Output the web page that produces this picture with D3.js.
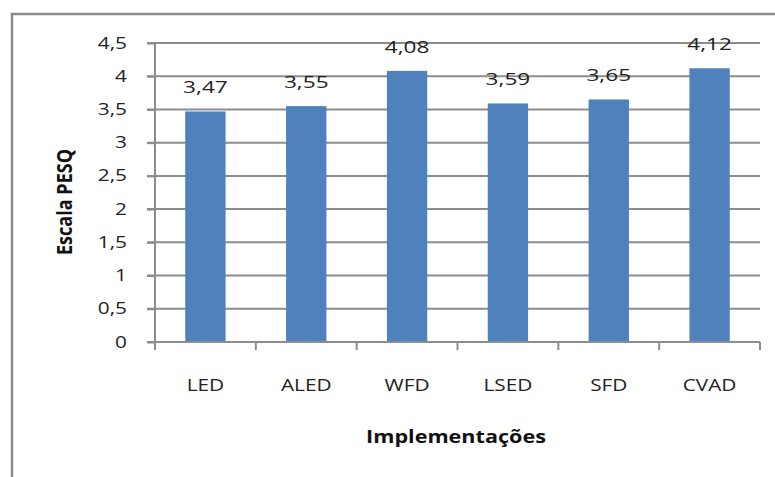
<!DOCTYPE html>
<html><head><meta charset="utf-8">
<script src="https://cdn.jsdelivr.net/npm/d3@7"></script>
<style>body{margin:0;background:#fff}svg{display:block}</style>
</head><body>
<script>
const categories = ["LED","ALED","WFD","LSED","SFD","CVAD"];
const values = [3.47,3.55,4.08,3.59,3.65,4.12];
const yTicks = [0,0.5,1,1.5,2,2.5,3,3.5,4,4.5];
const yTitle = "Escala PESQ";
const xTitle = "Implementações";

const W = 775, H = 477;
const svg = d3.select("body").append("svg").attr("width",W).attr("height",H);
const font = "'Open Sans', 'Noto Sans', sans-serif";
const fmt = v => String(v).replace(".", ",");
const SX = 1.3; // horizontal stretch of the reference image

function stretchText(sel, opts){
  // sel: a selection of g elements already data-bound
  sel.attr("transform", d => `translate(${opts.x(d)},${opts.y(d)}) scale(${opts.sx||SX},1)`)
    .append("text").attr("text-anchor",opts.anchor||"middle")
    .attr("font-family",font).attr("font-size",opts.size)
    .attr("font-weight",opts.weight||"normal").attr("fill",opts.fill||"#222")
    .text(opts.text);
}

svg.append("rect").attr("x",12).attr("y",14).attr("width",W).attr("height",H)
  .attr("fill","#fff").attr("stroke","#8a8a8a").attr("stroke-width",2.5);

const x = d3.scaleBand().domain(categories).range([155,760]).paddingInner(0.6).paddingOuter(0.3);
const y = d3.scaleLinear().domain([0,4.5]).range([342,43]);

// gridlines
svg.append("g").selectAll("line").data(yTicks).join("line")
  .attr("x1",147).attr("x2",760).attr("y1",d=>y(d)).attr("y2",d=>y(d))
  .attr("stroke","#8c8c8c").attr("stroke-width",2);

// y axis (lines from d3 axis, labels stretched)
const yAxis = svg.append("g").attr("transform","translate(155,0)")
  .call(d3.axisLeft(y).tickValues(yTicks).tickFormat("").tickSize(8));
yAxis.select(".domain").attr("stroke","#8c8c8c").attr("stroke-width",2).attr("d","M0,"+y(0)+"V"+y(4.5));
yAxis.selectAll(".tick line").attr("stroke","#8c8c8c").attr("stroke-width",2);
stretchText(svg.append("g").selectAll("g").data(yTicks).join("g"),
  {x:()=>127, y:d=>y(d)+5.5, size:16, anchor:"end", text:fmt});

// bars
svg.append("g").selectAll("rect").data(values).join("rect")
  .attr("x",(d,i)=>x(categories[i])).attr("width",x.bandwidth())
  .attr("y",d=>y(d)).attr("height",d=>y(0)-y(d)).attr("fill","#4F81BD");

// x axis
const step = (760-155)/categories.length;
const xAxis = svg.append("g").attr("transform","translate(0,"+y(0)+")");
xAxis.append("line").attr("x1",155).attr("x2",760).attr("stroke","#8c8c8c").attr("stroke-width",2);
xAxis.selectAll(".tk").data(d3.range(categories.length+1)).join("line").attr("class","tk")
  .attr("x1",i=>155+i*step).attr("x2",i=>155+i*step).attr("y1",0).attr("y2",8)
  .attr("stroke","#8c8c8c").attr("stroke-width",2);
stretchText(svg.append("g").selectAll("g").data(categories).join("g"),
  {x:d=>x(d)+x.bandwidth()/2, y:()=>391, size:16, text:d=>d});

// value labels
stretchText(svg.append("g").selectAll("g").data(values).join("g"),
  {x:(d)=>x(categories[values.indexOf(d)])+x.bandwidth()/2, y:d=>y(d)-18, size:17, sx:1.33, text:fmt});

// titles
stretchText(svg.append("g").selectAll("g").data([xTitle]).join("g"),
  {x:()=>456, y:()=>443, size:17, sx:1.27, weight:"bold", fill:"#111", text:d=>d});
svg.append("g").attr("transform","translate(72,202) scale(1.3,1) rotate(-90)")
  .append("text").attr("text-anchor","middle")
  .attr("font-family",font).attr("font-size",17).attr("font-weight","bold").attr("fill","#111")
  .attr("textLength",106).attr("lengthAdjust","spacingAndGlyphs").text(yTitle);
</script>
</body></html>
